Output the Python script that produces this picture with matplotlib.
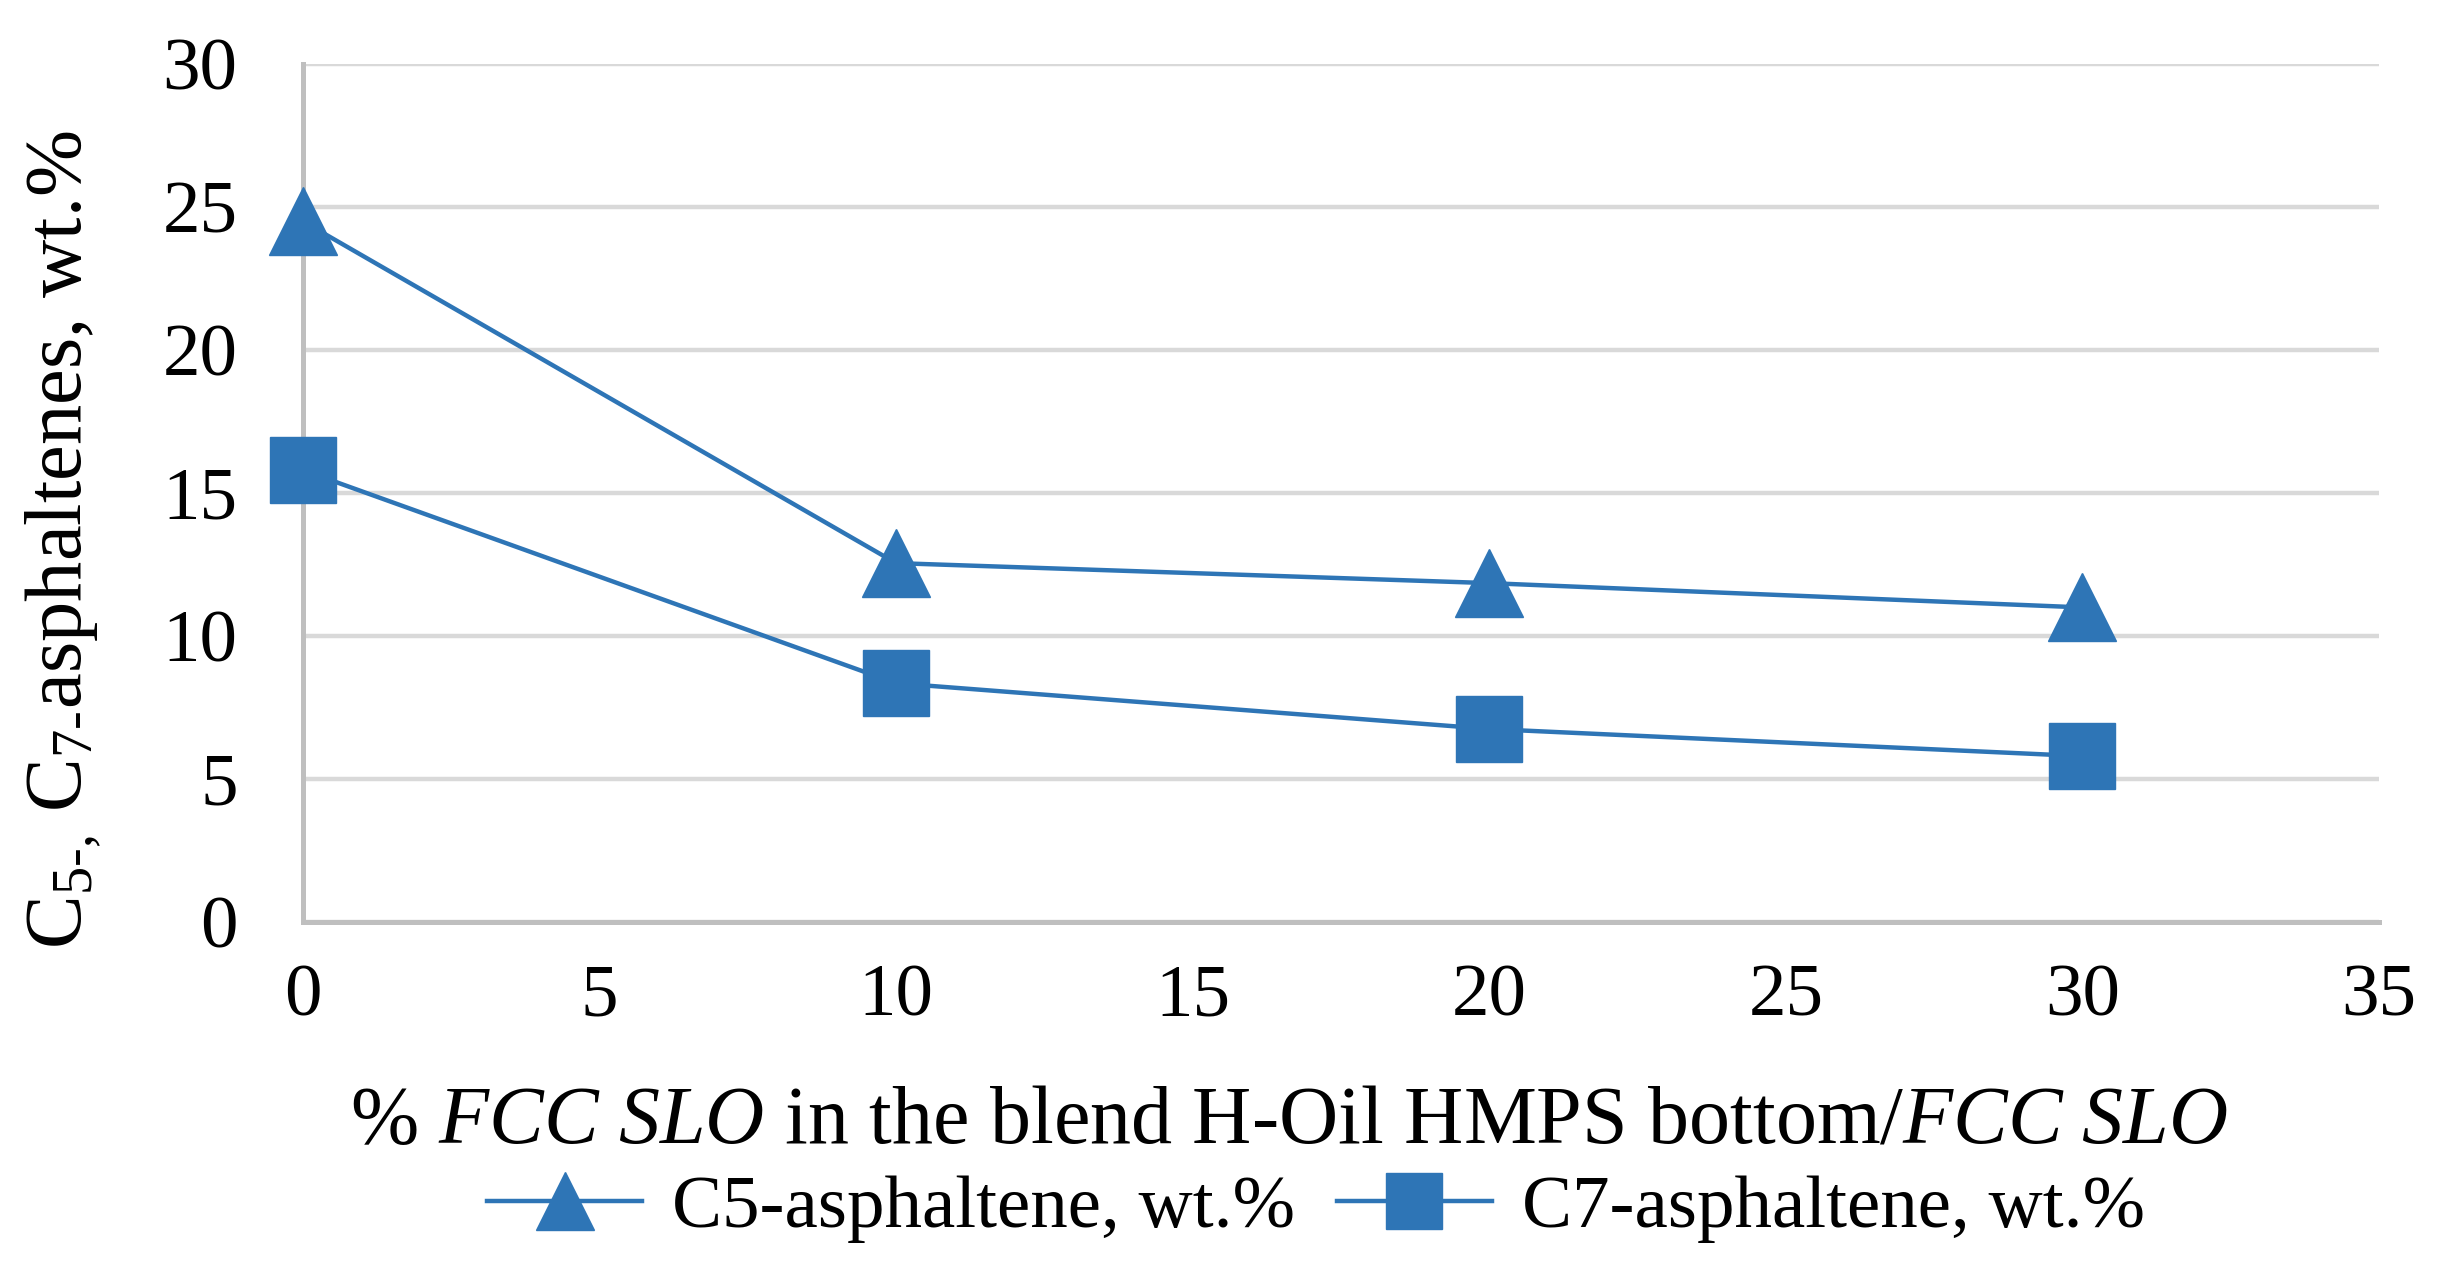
import matplotlib
matplotlib.use("Agg")
import matplotlib.pyplot as plt

x_vals = [0, 10, 20, 30]
c5 = [24.5, 12.55, 11.85, 11.0]
c7 = [15.8, 8.35, 6.75, 5.8]
labels = ["C5-asphaltene, wt.%", "C7-asphaltene, wt.%"]
xticks = [0, 5, 10, 15, 20, 25, 30, 35]
yticks = [0, 5, 10, 15, 20, 25, 30]
xlabel = r"% $\mathit{FCC\ SLO}$ in the blend H-Oil HMPS bottom/$\mathit{FCC\ SLO}$"
ylabel = r"C$_{\text{5-,}}$ C$_{\text{7-}}$asphaltenes, wt.%"

plt.rcParams['font.family'] = ['Liberation Serif', 'DejaVu Serif']
plt.rcParams['mathtext.fontset'] = 'custom'
plt.rcParams['mathtext.rm'] = 'Liberation Serif'
plt.rcParams['mathtext.it'] = 'Liberation Serif:italic'

color = '#2E75B6'
fig = plt.figure(figsize=(24.37, 12.66), dpi=100)
ax = fig.add_axes([0.1243, 0.2717, 0.8519, 0.6777])

ax.plot(x_vals, c5, color=color, lw=3.2, marker='^', ms=49, label=labels[0], clip_on=False, zorder=3)
ax.plot(x_vals, c7, color=color, lw=3.2, marker='s', ms=47, label=labels[1], clip_on=False, zorder=3)

ax.set_xlim(0, 35)
ax.set_ylim(0, 30)
ax.set_xticks(xticks)
ax.set_yticks(yticks)
ax.grid(axis='y', color='#D9D9D9', lw=3.2)
ax.set_axisbelow(True)
for s in ['top', 'right']:
    ax.spines[s].set_visible(False)
for s in ['left', 'bottom']:
    ax.spines[s].set_color('#BFBFBF')
    ax.spines[s].set_linewidth(3.6)
ax.tick_params(length=0, labelsize=54)
ax.tick_params(axis='y', pad=47)
ax.tick_params(axis='x', pad=30)

fig.text(0.529, 1 - 1143 / 1266, xlabel, fontsize=59, ha='center', va='baseline')
fig.text(81 / 2437, 1 - 540 / 1266, ylabel, fontsize=58, ha='center', va='baseline',
         rotation=90, rotation_mode='anchor')

fig.legend(loc='center', bbox_to_anchor=(0.54, 0.045), ncol=2, frameon=False,
           fontsize=54, handlelength=2.07, columnspacing=0.55, handletextpad=0.4,
           markerscale=0.85)

fig.savefig('out.png', dpi=100)
